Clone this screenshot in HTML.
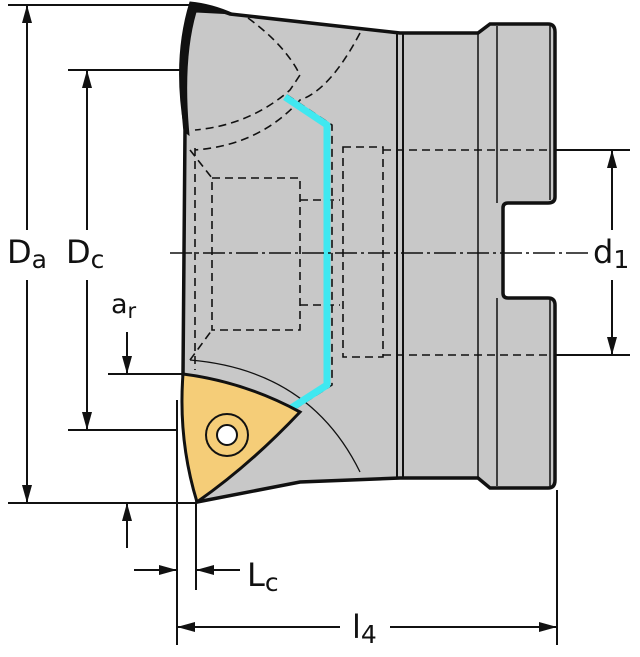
<!DOCTYPE html>
<html><head><style>body{margin:0;background:#fff}svg{display:block}text{font-family:"DejaVu Sans","Liberation Sans",sans-serif;fill:#111}</style></head><body>
<svg width="640" height="657" viewBox="0 0 640 657" xmlns="http://www.w3.org/2000/svg">
<g stroke="#111" fill="none">
<!-- body -->
<path d="M190,8 Q215,8 230,14 L400,33 L478,33 L490,24 L548,24 Q555,24 555,32 L555,197 Q555,203 548,203 L508,203 Q503,203 503,208 L503,293 Q503,298 508,298 L548,298 Q555,298 555,305 L555,480 Q555,488 548,488 L490,488 L478,478 L400,478 L300,482 L197,502 L183,375 L185,130 Q178,60 190,8 Z" fill="#c8c8c8" stroke-width="3.5"/>
<path d="M190,2 Q212,4 234,14 L196,12 Q182,60 189,135 L185,132 Q172,60 190,2 Z" fill="#111"/>
<line x1="397" y1="33" x2="397" y2="478" stroke-width="2"/>
<line x1="403" y1="33" x2="403" y2="478" stroke-width="2"/>
<line x1="478" y1="33" x2="478" y2="478" stroke-width="1.5"/>
<line x1="497" y1="26" x2="497" y2="203" stroke-width="1.5"/>
<line x1="497" y1="298" x2="497" y2="486" stroke-width="1.5"/>
<line x1="550" y1="26" x2="550" y2="200" stroke-width="1.5"/>
<line x1="550" y1="300" x2="550" y2="486" stroke-width="1.5"/>
<!-- dashed hidden -->
<g stroke-dasharray="8,5" stroke-width="1.6">
<path d="M248,18 Q285,45 300,75 L290,90 Q250,125 195,130"/>
<path d="M360,33 Q330,90 300,100 Q260,145 195,150"/>
<rect x="212" y="178" width="88" height="152"/>
<rect x="343" y="147" width="40" height="210"/>
<line x1="383" y1="150" x2="550" y2="150"/>
<line x1="383" y1="355" x2="550" y2="355"/>
<path d="M300,200 L340,200 M300,305 L340,305"/>
<path d="M190,150 L212,178 M190,360 L212,330"/>
<line x1="195" y1="148" x2="195" y2="370"/>
<path d="M287,95 L332,125 L332,385 L290,412"/>
</g>
<path d="M190,360 Q310,370 360,472" stroke-width="1.3"/>
<!-- coolant -->
<path d="M285,97 L327,125 L327,385 L285,412" stroke="#40e8f0" stroke-width="7" stroke-linejoin="round"/>
<!-- insert -->
<path d="M183,374 Q245,382 300,412 Q250,465 197,502 Q178,440 183,374 Z" fill="#f5cd78" stroke-width="3"/>
<circle cx="227" cy="435" r="21" stroke-width="2"/>
<circle cx="227" cy="435" r="10" fill="#fff" stroke-width="2"/>
<!-- centerline -->
<line x1="170" y1="253" x2="588" y2="253" stroke-dasharray="22,4,3,4" stroke-width="1.5"/>
<!-- dimension lines -->
<g stroke-width="2">
<line x1="8" y1="5" x2="190" y2="5"/>
<line x1="68" y1="70" x2="185" y2="70"/>
<line x1="108" y1="374" x2="185" y2="374"/>
<line x1="68" y1="430" x2="177" y2="430"/>
<line x1="8" y1="503" x2="196" y2="503"/>
<line x1="27" y1="5" x2="27" y2="230"/><line x1="27" y1="280" x2="27" y2="503"/>
<line x1="87" y1="70" x2="87" y2="230"/><line x1="87" y1="280" x2="87" y2="430"/>
<line x1="127" y1="332" x2="127" y2="374"/><line x1="127" y1="503" x2="127" y2="548"/>
<line x1="177" y1="400" x2="177" y2="645"/>
<line x1="196" y1="503" x2="196" y2="590"/>
<line x1="557" y1="490" x2="557" y2="645"/>
<line x1="134" y1="570" x2="177" y2="570"/><line x1="196" y1="570" x2="240" y2="570"/>
<line x1="177" y1="627" x2="340" y2="627"/><line x1="390" y1="627" x2="557" y2="627"/>
<line x1="555" y1="150" x2="630" y2="150"/>
<line x1="555" y1="355" x2="630" y2="355"/>
<line x1="612" y1="150" x2="612" y2="230"/><line x1="612" y1="280" x2="612" y2="355"/>
</g>
<g fill="#111" stroke="none">
<path d="M27,5 l-5,18 h10z"/><path d="M27,503 l-5,-18 h10z"/>
<path d="M87,70 l-5,18 h10z"/><path d="M87,430 l-5,-18 h10z"/>
<path d="M127,374 l-5,-18 h10z"/><path d="M127,503 l-5,18 h10z"/>
<path d="M177,570 l-18,-5 v10z"/><path d="M196,570 l18,-5 v10z"/>
<path d="M177,627 l18,-5 v10z"/><path d="M557,627 l-18,-5 v10z"/>
<path d="M612,150 l-5,18 h10z"/><path d="M612,355 l-5,-18 h10z"/>
</g>
</g>
<text x="7" y="263" font-size="32">D<tspan font-size="25" dy="5">a</tspan></text>
<text x="66" y="263" font-size="32">D<tspan font-size="25" dy="5">c</tspan></text>
<text x="111" y="313" font-size="27">a<tspan font-size="21" dy="5">r</tspan></text>
<text x="247" y="586" font-size="32">L<tspan font-size="25" dy="5">c</tspan></text>
<text x="352" y="638" font-size="32">l<tspan font-size="25" dy="5">4</tspan></text>
<text x="593" y="263" font-size="32">d<tspan font-size="25" dy="5">1</tspan></text>
</svg>
</body></html>
